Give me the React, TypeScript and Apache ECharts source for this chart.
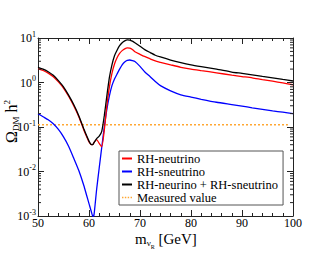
import React, { useEffect, useRef } from "react";
import * as echarts from "echarts";

const mass = [50, 51, 52, 53, 54, 55, 56, 57, 58, 59, 59.5, 60, 60.5, 60.8, 61, 61.5, 62, 62.5, 63, 63.5, 64, 64.5, 65, 65.5, 66, 66.5, 67, 67.5, 68, 68.5, 69, 70, 71, 72, 73, 74, 76, 78, 80, 82, 85, 88, 90, 92, 94, 96, 98, 100];
const rhNeutrino = [2.05, 1.86, 1.62, 1.35, 1.03, 0.75, 0.49, 0.3, 0.17, 0.085, 0.062, 0.046, 0.04, 0.041, 0.045, 0.052, 0.043, 0.036, 0.085, 0.3, 0.8, 1.6, 2.6, 3.6, 4.5, 5.2, 5.7, 6.0, 5.9, 5.5, 4.9, 4.3, 3.8, 3.4, 3.05, 2.85, 2.5, 2.2, 2.0, 1.85, 1.65, 1.46, 1.36, 1.27, 1.16, 1.07, 0.98, 0.89];
const rhSneutrino = [0.2, 0.17, 0.145, 0.118, 0.088, 0.06, 0.037, 0.02, 0.0105, 0.0048, 0.003, 0.0019, 0.0012, 0.00095, 0.0011, 0.004, 0.012, 0.035, 0.1, 0.25, 0.5, 0.85, 1.2, 1.55, 2.0, 2.5, 2.9, 3.15, 3.2, 3.1, 2.95, 2.3, 1.7, 1.35, 1.05, 0.85, 0.65, 0.53, 0.47, 0.42, 0.36, 0.32, 0.295, 0.27, 0.25, 0.23, 0.215, 0.2];
const total = [2.2, 2.0, 1.75, 1.45, 1.1, 0.8, 0.52, 0.32, 0.18, 0.09, 0.065, 0.048, 0.04, 0.041, 0.045, 0.055, 0.062, 0.08, 0.18, 0.5, 1.3, 2.5, 4.0, 5.3, 6.7, 7.8, 8.6, 9.1, 9.0, 8.5, 7.8, 6.5, 5.4, 4.7, 4.1, 3.75, 3.2, 2.8, 2.5, 2.28, 2.0, 1.72, 1.6, 1.48, 1.37, 1.27, 1.17, 1.08];
const measuredX = [50, 99];
const measuredValue = 0.112;

const seriesNames = ["RH-neutrino", "RH-sneutrino", "RH-neurino + RH-sneutrino", "Measured value"];
const xTicks = [50, 60, 70, 80, 90, 100];
const yMinorTicks: number[] = [];
[0.001, 0.01, 0.1, 1].forEach((d) => {
  for (let k = 2; k <= 9; k++) yMinorTicks.push(+(d * k).toPrecision(3));
});

const FONT = "Liberation Serif";
const AXIS = "#222";
const ORANGE = "#ffa733";

export default function App() {
  const ref = useRef<HTMLDivElement>(null);
  useEffect(() => {
    document.body.style.margin = "0";
    const chart = echarts.init(ref.current!, null, { renderer: "svg" });
    const pairs = (ys: number[]) => mass.map((m, i) => [m, ys[i]]);
    const xAxisBase = {
      type: "value",
      min: xTicks[0],
      max: xTicks[xTicks.length - 1],
      interval: 10,
      axisLine: { lineStyle: { color: AXIS, width: 1 } },
      axisTick: { inside: true, length: 6, lineStyle: { color: AXIS } },
      minorTick: { show: true, splitNumber: 5, length: 3, lineStyle: { color: AXIS } },
      splitLine: { show: false },
    };
    const yAxisBase = {
      type: "log",
      logBase: 10,
      min: 0.001,
      max: 10,
      splitNumber: 4,
      axisLine: { show: true, lineStyle: { color: AXIS, width: 1 } },
      axisTick: { show: true, inside: true, length: 6, lineStyle: { color: AXIS } },
      splitLine: { show: false },
    };
    chart.setOption({
      animation: false,
      grid: { left: 38, right: 37, top: 38, bottom: 39 },
      legend: {
        data: [
          { name: seriesNames[0], icon: "rect" },
          { name: seriesNames[1], icon: "rect" },
          { name: seriesNames[2], icon: "rect" },
          { name: seriesNames[3], icon: "path://M0 0h2v2h-2zM4 0h2v2h-2zM8 0h2v2h-2zM12 0h2v2h-2z" },
        ],
        orient: "vertical",
        left: 119,
        top: 151,
        itemWidth: 10,
        itemHeight: 2,
        itemGap: 0,
        padding: [1, 5, 1, 3],
        borderColor: "#555",
        borderWidth: 1,
        backgroundColor: "#fff",
        textStyle: { fontFamily: FONT, fontSize: 12.5, color: "#000", lineHeight: 12.5 },
      },
      xAxis: [
        {
          ...xAxisBase,
          position: "bottom",
          axisLabel: { fontFamily: FONT, fontSize: 12, color: "#000", margin: 2, lineHeight: 10 },
        },
        { ...xAxisBase, position: "top", axisLabel: { show: false } },
      ],
      yAxis: [
        {
          ...yAxisBase,
          position: "left",
          axisLabel: {
            margin: 2,
            formatter: (v: number) => "{b|10}{s|" + Math.round(Math.log10(v)) + "}",
            rich: {
              b: { fontFamily: FONT, fontSize: 12, color: "#000" },
              s: { fontFamily: FONT, fontSize: 8, color: "#000", padding: [0, 0, 8, 0] },
            },
          },
        },
        { ...yAxisBase, position: "right", axisLabel: { show: false } },
      ],
      graphic: [
        {
          type: "text",
          left: 135,
          top: 231,
          style: {
            text: "{m|m}{n|ν}{r|R}{t| [GeV]}",
            rich: {
              m: { fontFamily: FONT, fontSize: 15, lineHeight: 13, fill: "#000", verticalAlign: "top" },
              n: { fontFamily: FONT, fontSize: 9, lineHeight: 9, fill: "#000", verticalAlign: "top", padding: [7, 0, 0, 0] },
              r: { fontFamily: FONT, fontSize: 6, lineHeight: 6, fill: "#000", verticalAlign: "top", padding: [13, 0, 0, 0] },
              t: { fontFamily: FONT, fontSize: 15, lineHeight: 13, fill: "#000", verticalAlign: "top" },
            },
          },
        },
        {
          type: "text",
          x: 2,
          y: 143,
          rotation: Math.PI / 2,
          style: {
            text: "{o|Ω}{d|DM}{h| h}{s|2}",
            rich: {
              o: { fontFamily: FONT, fontSize: 16, fill: "#000" },
              d: { fontFamily: FONT, fontSize: 9, fill: "#000", padding: [9, 0, 0, 0] },
              h: { fontFamily: FONT, fontSize: 16, fill: "#000" },
              s: { fontFamily: FONT, fontSize: 9, fill: "#000", padding: [0, 0, 10, 0] },
            },
          },
        },
      ],
      series: [
        {
          name: seriesNames[3],
          type: "line",
          data: measuredX.map((x) => [x, measuredValue]),
          symbol: "none",
          lineStyle: { color: ORANGE, width: 1.5, type: [2, 2] },
          itemStyle: { color: ORANGE },
          z: 1,
        },
        {
          name: seriesNames[1],
          type: "line",
          data: pairs(rhSneutrino),
          symbol: "none",
          smooth: 0.2,
          lineStyle: { color: "#0000ff", width: 1.3 },
          itemStyle: { color: "#0000ff" },
          z: 2,
        },
        {
          name: seriesNames[0],
          type: "line",
          data: pairs(rhNeutrino),
          symbol: "none",
          smooth: 0.2,
          lineStyle: { color: "#ff0000", width: 1.3 },
          itemStyle: { color: "#ff0000" },
          z: 3,
        },
        {
          name: seriesNames[2],
          type: "line",
          data: pairs(total),
          symbol: "none",
          smooth: 0.2,
          lineStyle: { color: "#000000", width: 1.3 },
          itemStyle: { color: "#000000" },
          z: 4,
        },
        {
          type: "custom",
          silent: true,
          data: yMinorTicks.map((v) => [xTicks[0], v]),
          renderItem: (_p: any, api: any) => {
            const a = api.coord([xTicks[0], api.value(1)]);
            const b = api.coord([xTicks[xTicks.length - 1], api.value(1)]);
            return {
              type: "group",
              children: [
                { type: "line", shape: { x1: a[0], y1: a[1], x2: a[0] + 3, y2: a[1] }, style: { stroke: AXIS, lineWidth: 1 } },
                { type: "line", shape: { x1: b[0], y1: b[1], x2: b[0] - 3, y2: b[1] }, style: { stroke: AXIS, lineWidth: 1 } },
              ],
            };
          },
          z: 5,
        },
      ],
    });
    return () => chart.dispose();
  }, []);
  return <div ref={ref} style={{ width: 330, height: 255 }} />;
}
